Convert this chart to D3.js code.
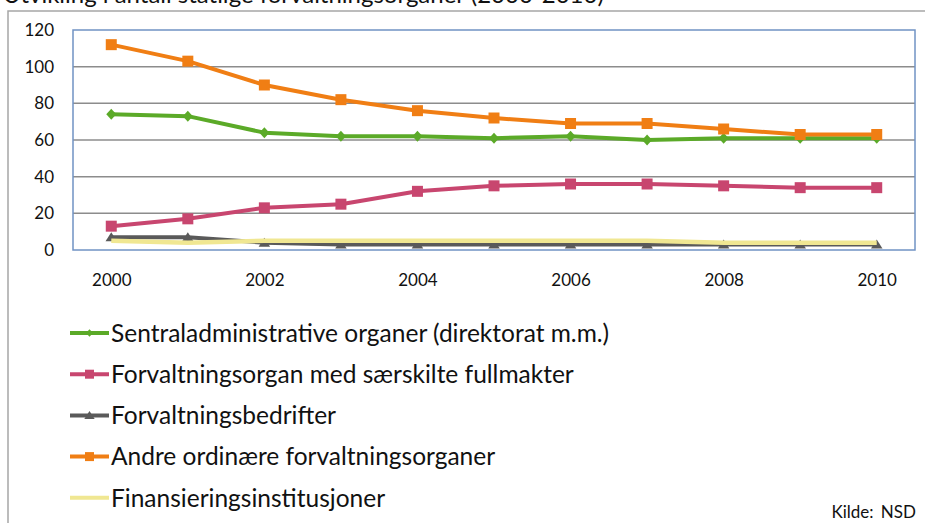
<!DOCTYPE html>
<html>
<head>
<meta charset="utf-8">
<script src="https://cdn.jsdelivr.net/npm/d3@7"></script>
<style>
  html, body { margin: 0; padding: 0; background: #fff; }
  svg { display: block; }
  text { font-family: Lato, "Open Sans", sans-serif; fill: #111; }
</style>
</head>
<body>
<svg id="chart" width="925" height="523"></svg>
<script>
const years = [2000, 2001, 2002, 2003, 2004, 2005, 2006, 2007, 2008, 2009, 2010];
const yearLabels = [2000, 2002, 2004, 2006, 2008, 2010];
const yTicks = [0, 20, 40, 60, 80, 100, 120];

const sentraladm = [74, 73, 64, 62, 62, 61, 62, 60, 61, 61, 61];
const fullmakter = [13, 17, 23, 25, 32, 35, 36, 36, 35, 34, 34];
const bedrifter  = [7, 7, 4, 3, 3, 3, 3, 3, 3, 3, 3];
const andre      = [112, 103, 90, 82, 76, 72, 69, 69, 66, 63, 63];
const finans     = [5, 4, 5, 5, 5, 5, 5, 5, 4, 4, 4];

const seriesNames = [
  "Sentraladministrative organer (direktorat m.m.)",
  "Forvaltningsorgan med særskilte fullmakter",
  "Forvaltningsbedrifter",
  "Andre ordinære forvaltningsorganer",
  "Finansieringsinstitusjoner"
];
const seriesValues = [sentraladm, fullmakter, bedrifter, andre, finans];
const seriesColors = ["#5BAA28", "#C8466F", "#5A5A5A", "#F07E14", "#F0E792"];
const seriesMarkers = ["diamond", "square", "triangle", "square", "none"];

const titleText = "Utvikling i antall statlige forvaltningsorganer (2000-2010)";
const sourceText = "Kilde: NSD";

const svg = d3.select("#chart");

// title (cut off at top, as in the reference)
svg.append("text")
  .attr("x", 3).attr("y", 3)
  .attr("font-size", 24)
  .text(titleText);

// outer frame
svg.append("rect")
  .attr("x", 8).attr("y", 11)
  .attr("width", 1000).attr("height", 600)
  .attr("fill", "none")
  .attr("stroke", "#A6A6A6").attr("stroke-width", 1.5);

const plot = { left: 73, top: 30, right: 915, bottom: 250 };

const x = d3.scalePoint().domain(years).range([plot.left, plot.right]).padding(0.5);
const y = d3.scaleLinear().domain([0, 120]).range([plot.bottom, plot.top]);

// gridlines
svg.append("g")
  .selectAll("line")
  .data(yTicks.filter(t => t > 0 && t < 120))
  .join("line")
  .attr("x1", plot.left).attr("x2", plot.right)
  .attr("y1", d => y(d)).attr("y2", d => y(d))
  .attr("stroke", "#8C8C8C").attr("stroke-width", 1.5);

// plot border
svg.append("rect")
  .attr("x", plot.left).attr("y", plot.top)
  .attr("width", plot.right - plot.left).attr("height", plot.bottom - plot.top)
  .attr("fill", "none")
  .attr("stroke", "#7093C4").attr("stroke-width", 1.5);

// y axis labels
const yAxis = d3.axisLeft(y).tickValues(yTicks).tickSize(0).tickPadding(19);
const gy = svg.append("g").attr("transform", `translate(${plot.left},0)`).call(yAxis);
gy.select(".domain").remove();
gy.selectAll("text").attr("font-size", 17).attr("font-family", "Lato, sans-serif").attr("fill", "#111");

// x axis labels
const xAxis = d3.axisBottom(x).tickValues(yearLabels).tickSize(0).tickPadding(24);
const gx = svg.append("g").attr("transform", `translate(0,${plot.bottom})`).call(xAxis);
gx.select(".domain").remove();
gx.selectAll("text").attr("font-size", 17).attr("font-family", "Lato, sans-serif").attr("fill", "#111");

function markerPath(type, s) {
  if (type === "diamond") return `M0,${-s*1.1}L${s},0L0,${s*1.1}L${-s},0Z`;
  if (type === "square") return `M${-s},${-s}H${s}V${s}H${-s}Z`;
  if (type === "triangle") return `M0,${-s}L${s*1.15},${s*0.8}H${-s*1.15}Z`;
  return "";
}
const markerSize = { diamond: 5, square: 5.5, triangle: 5 };

const line = d3.line().x((d, i) => x(years[i])).y(d => y(d));

seriesValues.forEach((vals, k) => {
  const g = svg.append("g");
  g.append("path")
    .datum(vals)
    .attr("d", line)
    .attr("fill", "none")
    .attr("stroke", seriesColors[k])
    .attr("stroke-width", seriesMarkers[k] === "none" ? 4.5 : 4)
    .attr("stroke-linejoin", "round");
  if (seriesMarkers[k] !== "none") {
    g.selectAll("path.m")
      .data(vals)
      .join("path")
      .attr("class", "m")
      .attr("transform", (d, i) => `translate(${x(years[i])},${y(d)})`)
      .attr("d", markerPath(seriesMarkers[k], markerSize[seriesMarkers[k]]))
      .attr("fill", seriesColors[k]);
  }
});

// legend
const legend = svg.append("g");
const legY0 = 333, legStep = 41.2;
seriesNames.forEach((name, k) => {
  const ly = legY0 + k * legStep;
  legend.append("line")
    .attr("x1", 70).attr("x2", 109)
    .attr("y1", ly).attr("y2", ly)
    .attr("stroke", seriesColors[k]).attr("stroke-width", 4);
  if (seriesMarkers[k] !== "none") {
    const ls = seriesMarkers[k] === "diamond" ? 3.5 : 4.5;
    legend.append("path")
      .attr("transform", `translate(89.5,${ly})`)
      .attr("d", markerPath(seriesMarkers[k], ls))
      .attr("fill", seriesColors[k]);
  }
  legend.append("text")
    .attr("x", 111).attr("y", ly)
    .attr("dy", "0.36em")
    .attr("font-size", 24.5)
    .text(name);
});

// source
svg.append("text")
  .attr("x", 916).attr("y", 518)
  .attr("text-anchor", "end")
  .attr("font-size", 17)
  .attr("word-spacing", 3)
  .text(sourceText);
</script>
</body>
</html>
